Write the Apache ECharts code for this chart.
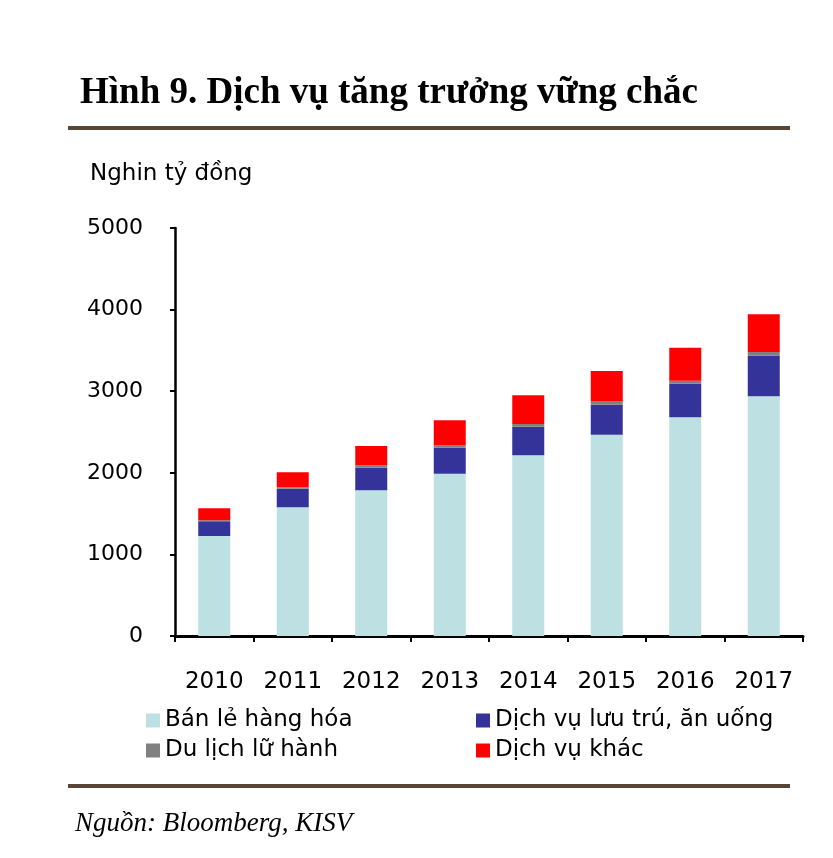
<!DOCTYPE html>
<html>
<head>
<meta charset="utf-8">
<script src="https://cdn.jsdelivr.net/npm/echarts@6/dist/echarts.min.js"></script>
<style>
html,body{margin:0;padding:0;background:#fff;}
#c{width:833px;height:858px;}
</style>
</head>
<body>
<div id="c"></div>
<script>
const categories = ['2010','2011','2012','2013','2014','2015','2016','2017'];
const retail = [1225, 1577, 1785, 1989, 2214, 2467, 2680, 2937];
const accommodation = [180, 228, 278, 319, 351, 368, 412, 498];
const travel = [12, 17, 29, 29, 33, 45, 37, 45];
const other = [148, 184, 236, 306, 351, 368, 404, 462];
const yTicks = [0, 1000, 2000, 3000, 4000, 5000];

const seriesNames = ['Bán lẻ hàng hóa', 'Dịch vụ lưu trú, ăn uống', 'Du lịch lữ hành', 'Dịch vụ khác'];
const colors = ['#bde1e3', '#333399', '#808080', '#ff0000'];
const dataSets = [retail, accommodation, travel, other];

const chart = echarts.init(document.getElementById('c'), null, {renderer: 'canvas'});
const sans = 'DejaVu Sans';
const legendText = {fontFamily: sans, fontSize: 23, color: '#000'};

chart.setOption({
  animation: false,
  backgroundColor: '#fff',
  grid: {left: 175, right: 30, top: 228, bottom: 222, containLabel: false},
  xAxis: {
    type: 'category',
    data: categories,
    boundaryGap: true,
    axisLine: {lineStyle: {color: '#000', width: 3}},
    axisTick: {show: true, length: 6, lineStyle: {color: '#000', width: 2}},
    axisLabel: {fontFamily: sans, fontSize: 23, color: '#000', margin: 35}
  },
  yAxis: {
    type: 'value',
    min: yTicks[0],
    max: yTicks[yTicks.length - 1],
    interval: 1000,
    splitLine: {show: false},
    axisLine: {show: true, lineStyle: {color: '#000', width: 2.5}},
    axisTick: {show: true, length: 5, lineStyle: {color: '#000', width: 2}},
    axisLabel: {fontFamily: sans, fontSize: 22, color: '#000', margin: 32, formatter: v => String(v)}
  },
  legend: [
    {
      data: [seriesNames[0], seriesNames[2]],
      orient: 'vertical', left: 146, top: 709,
      itemWidth: 14, itemHeight: 14, itemGap: 7, icon: 'rect',
      textStyle: legendText, padding: 0
    },
    {
      data: [seriesNames[1], seriesNames[3]],
      orient: 'vertical', left: 476, top: 709,
      itemWidth: 14, itemHeight: 14, itemGap: 7, icon: 'rect',
      textStyle: legendText, padding: 0
    }
  ],
  series: seriesNames.map((n, i) => ({
    name: n,
    type: 'bar',
    stack: 'total',
    barWidth: 32,
    data: dataSets[i],
    itemStyle: {color: colors[i]}
  })),
  graphic: [
    {type: 'text', left: 80, top: 75, style: {text: 'Hình 9. Dịch vụ tăng trưởng vững chắc', font: 'bold 37px "Liberation Serif"', fill: '#000'}},
    {type: 'line', shape: {x1: 68, y1: 128, x2: 790, y2: 128}, style: {stroke: '#594535', lineWidth: 4}},
    {type: 'text', left: 90, top: 163, style: {text: 'Nghin tỷ đồng', font: '23px "DejaVu Sans"', fill: '#000'}},
    {type: 'line', shape: {x1: 68, y1: 786, x2: 790, y2: 786}, style: {stroke: '#594535', lineWidth: 4}},
    {type: 'text', left: 75, top: 810, style: {text: 'Nguồn: Bloomberg, KISV', font: 'italic 27px "Liberation Serif"', fill: '#000'}}
  ]
});
</script>
</body>
</html>
